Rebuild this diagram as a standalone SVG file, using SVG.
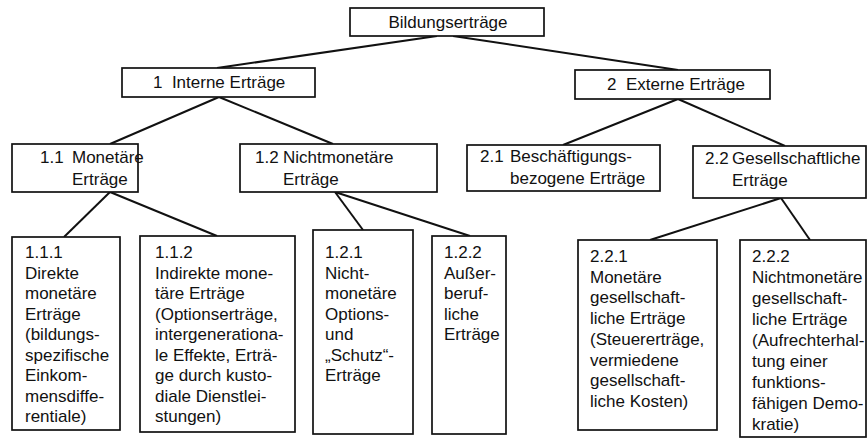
<svg xmlns="http://www.w3.org/2000/svg" width="867" height="438" viewBox="0 0 867 438">
<style>
rect{fill:#fff;stroke:#111;stroke-width:1.7}
text{font-family:"Liberation Sans",Arial,sans-serif;font-size:17px;fill:#111}
.c line{stroke:#111;stroke-width:2}
</style>
<rect x="0" y="0" width="867" height="438" style="stroke:none"/>
<g class="c" id="connectors">
<line x1="437" y1="36" x2="217" y2="68"/>
<line x1="453" y1="36" x2="678" y2="70"/>
<line x1="219" y1="97" x2="110" y2="144"/>
<line x1="219" y1="97" x2="333" y2="144"/>
<line x1="678" y1="99" x2="563" y2="145"/>
<line x1="678" y1="99" x2="785" y2="146"/>
<line x1="110" y1="192" x2="64" y2="237"/>
<line x1="110" y1="192" x2="217" y2="236"/>
<line x1="335" y1="192" x2="363" y2="230"/>
<line x1="335" y1="192" x2="470" y2="236"/>
<line x1="781" y1="198" x2="650" y2="240"/>
<line x1="781" y1="198" x2="810" y2="240"/>
</g>
<g id="n0"><rect x="350" y="8" width="194" height="28"/><text x="448" y="28" text-anchor="middle">Bildungserträge</text></g>
<g id="n1"><rect x="122" y="68" width="193" height="29"/><text x="153" y="88" xml:space="preserve">1  Interne Erträge</text></g>
<g id="n2"><rect x="575" y="70" width="195" height="29"/><text x="607" y="90" xml:space="preserve">2  Externe Erträge</text></g>
<g id="n11"><rect x="12" y="144" width="126" height="48"/><text y="163"><tspan x="40">1.1</tspan><tspan x="72">Monetäre</tspan><tspan x="72" dy="22">Erträge</tspan></text></g>
<g id="n12"><rect x="240" y="144" width="197" height="48"/><text y="163"><tspan x="255">1.2</tspan><tspan x="283">Nichtmonetäre</tspan><tspan x="283" dy="22">Erträge</tspan></text></g>
<g id="n21"><rect x="467" y="145" width="193" height="46"/><text y="162"><tspan x="480">2.1</tspan><tspan x="510">Beschäftigungs-</tspan><tspan x="510" dy="22">bezogene Erträge</tspan></text></g>
<g id="n22"><rect x="693" y="146" width="173" height="52"/><text y="164"><tspan x="705">2.2</tspan><tspan x="732">Gesellschaftliche</tspan><tspan x="732" dy="22">Erträge</tspan></text></g>
<g id="n111"><rect x="12" y="237" width="108" height="193"/><text y="258"><tspan x="25">1.1.1</tspan><tspan x="25" dy="20.5">Direkte</tspan><tspan x="25" dy="20.5">monetäre</tspan><tspan x="25" dy="20.5">Erträge</tspan><tspan x="25" dy="20.5">(bildungs-</tspan><tspan x="25" dy="20.5">spezifische</tspan><tspan x="25" dy="20.5">Einkom-</tspan><tspan x="25" dy="20.5">mensdiffe-</tspan><tspan x="25" dy="20.5">rentiale)</tspan></text></g>
<g id="n112"><rect x="140" y="236" width="155" height="196"/><text y="258"><tspan x="155">1.1.2</tspan><tspan x="155" dy="20.5">Indirekte mone-</tspan><tspan x="155" dy="20.5">täre Erträge</tspan><tspan x="155" dy="20.5">(Optionserträge,</tspan><tspan x="155" dy="20.5">intergenerationa-</tspan><tspan x="155" dy="20.5">le Effekte, Erträ-</tspan><tspan x="155" dy="20.5">ge durch kusto-</tspan><tspan x="155" dy="20.5">diale Dienstlei-</tspan><tspan x="155" dy="20.5">stungen)</tspan></text></g>
<g id="n121"><rect x="313" y="230" width="100" height="204"/><text y="258"><tspan x="325">1.2.1</tspan><tspan x="325" dy="20.5">Nicht-</tspan><tspan x="325" dy="20.5">monetäre</tspan><tspan x="325" dy="20.5">Options-</tspan><tspan x="325" dy="20.5">und</tspan><tspan x="325" dy="20.5">„Schutz“-</tspan><tspan x="325" dy="20.5">Erträge</tspan></text></g>
<g id="n122"><rect x="432" y="236" width="74" height="198"/><text y="258"><tspan x="444">1.2.2</tspan><tspan x="444" dy="20.5">Außer-</tspan><tspan x="444" dy="20.5">beruf-</tspan><tspan x="444" dy="20.5">liche</tspan><tspan x="444" dy="20.5">Erträge</tspan></text></g>
<g id="n221"><rect x="578" y="240" width="139" height="190"/><text y="262"><tspan x="590">2.2.1</tspan><tspan x="590" dy="20.7">Monetäre</tspan><tspan x="590" dy="20.7">gesellschaft-</tspan><tspan x="590" dy="20.7">liche Erträge</tspan><tspan x="590" dy="20.7">(Steuererträge,</tspan><tspan x="590" dy="20.7">vermiedene</tspan><tspan x="590" dy="20.7">gesellschaft-</tspan><tspan x="590" dy="20.7">liche Kosten)</tspan></text></g>
<g id="n222"><rect x="740" y="240" width="126" height="197"/><text y="262"><tspan x="752">2.2.2</tspan><tspan x="752" dy="21">Nichtmonetäre</tspan><tspan x="752" dy="21">gesellschaft-</tspan><tspan x="752" dy="21">liche Erträge</tspan><tspan x="752" dy="21">(Aufrechterhal-</tspan><tspan x="752" dy="21">tung einer</tspan><tspan x="752" dy="21">funktions-</tspan><tspan x="752" dy="21">fähigen Demo-</tspan><tspan x="752" dy="21">kratie)</tspan></text></g>
</svg>
